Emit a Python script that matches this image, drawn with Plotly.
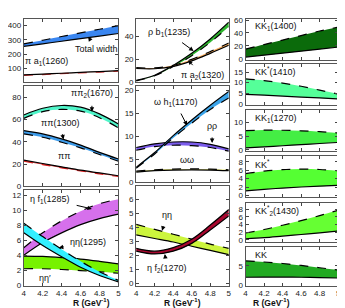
import plotly.graph_objects as go

R = [4.0, 4.2, 4.4, 4.6, 4.8, 5.0]
R_TICKS = [4.0, 4.2, 4.4, 4.6, 4.8, 5.0]
R_TICK_TEXT = ["4", "4.2", "4.4", "4.6", "4.8", "5"]

# left column, panel 1
total_lo = [255, 273, 291, 309, 327, 345]
total_hi = [272, 298, 324, 350, 375, 400]
pia1_lo = [52, 58, 64, 70, 75, 81]
pia1_hi = [55, 61, 67, 73, 79, 85]
# left column, panel 2
pp1670_hi = [64, 70, 72.5, 71, 65, 56]
pp1670_lo = [61, 67, 69, 67.5, 61.5, 52.5]
pp1300_hi = [50, 47, 42.5, 37, 30.5, 24.5]
pp1300_lo = [47, 44, 39.5, 34.5, 28.5, 22.5]
pipi_hi = [23.5, 20.5, 17.5, 14.5, 12, 9.5]
pipi_lo = [22.5, 19.5, 16.5, 13.8, 11.2, 8.8]
# left column, panel 3
ef1285_hi = [5.0, 7.0, 8.6, 9.9, 10.9, 11.5]
ef1285_lo = [4.0, 5.7, 7.0, 8.1, 8.9, 9.5]
ee1295_hi = [8.3, 6.5, 4.8, 3.2, 1.8, 0.65]
ee1295_lo = [7.0, 5.3, 3.8, 2.4, 1.3, 0.45]
eep_hi = [3.9, 3.85, 3.7, 3.5, 3.2, 2.85]
eep_lo = [2.2, 2.2, 2.1, 1.95, 1.8, 1.6]
# middle column, panel 1
rb1_hi = [1.5, 6, 14.5, 25, 37.5, 52]
rb1_lo = [1.0, 5.5, 13.5, 23, 34.5, 48]
pa2_hi = [12.5, 12.3, 14.6, 19.8, 26.5, 34]
pa2_lo = [11.8, 11.6, 13.6, 18.5, 25, 32]
# middle column, panel 2
wh1_hi = [3.3, 6.5, 10.2, 13.6, 16.8, 19.8]
wh1_lo = [3.1, 6.2, 9.7, 12.9, 15.9, 18.4]
rr_hi = [7.6, 8.4, 8.8, 8.8, 8.3, 7.3]
rr_lo = [7.0, 7.8, 8.1, 8.0, 7.6, 6.8]
ww_hi = [2.45, 2.75, 2.9, 2.95, 2.9, 2.75]
ww_lo = [2.25, 2.55, 2.7, 2.75, 2.7, 2.55]
# middle column, panel 3
ee_hi = [4.2, 3.85, 3.5, 3.15, 2.8, 2.5]
ee_lo = [3.45, 3.2, 2.95, 2.65, 2.35, 2.05]
ef2_hi = [2.5, 2.3, 2.55, 3.15, 4.15, 5.25]
ef2_lo = [2.3, 2.1, 2.3, 2.85, 3.8, 4.8]
# right column
kk1400_hi = [15, 22, 29, 36, 43, 49]
kk1400_lo = [2.5, 5.6, 8.7, 11.8, 14.9, 18]
kks1410_hi = [11.8, 11.0, 9.8, 8.3, 6.5, 4.6]
kks1410_lo = [4.5, 4.1, 3.7, 3.2, 2.8, 2.3]
kk1270_hi = [7.0, 7.15, 7.1, 6.9, 6.6, 6.1]
kk1270_lo = [0.7, 1.1, 1.5, 1.9, 2.3, 2.7]
kks_hi = [5.2, 5.8, 6.15, 6.3, 6.2, 5.9]
kks_lo = [1.1, 1.45, 1.75, 2.0, 2.2, 2.4]
kks1430_hi = [1.8, 2.7, 3.8, 5.0, 6.3, 7.7]
kks1430_lo = [0.3, 0.6, 1.0, 1.4, 1.85, 2.3]
kk_hi = [6.3, 6.0, 5.6, 5.1, 4.5, 3.9]
kk_lo = [2.0, 2.05, 2.05, 2.0, 1.9, 1.8]

W, H = 345, 308
FONT = "Liberation Sans, Arial, sans-serif"

# panel: (x left px, x right px, top px, bottom px, y range, y ticks)
panels = [
    (14, 110, 8, 73, [5, 448], [100, 200, 300, 400]),
    (14, 110, 77, 180, [0, 90], [0, 20, 40, 60, 80]),
    (14, 110, 184, 282, [-0.06, 12.7], [0, 2, 4, 6, 8, 10, 12]),
    (128, 222, 8, 73, [0, 55], [0, 20, 40]),
    (128, 222, 77, 176, [0, 21], [0, 5, 10, 15, 20]),
    (128, 222, 180, 282, [-0.15, 6.9], [0, 1, 2, 3, 4, 5, 6]),
    (239, 333, 8, 50, [-1.5, 62], [0, 20, 40, 60]),
    (239, 333, 54, 96, [-0.3, 19], [0, 5, 10, 15]),
    (239, 333, 102, 144, [-0.5, 14.3], [0, 5, 10]),
    (239, 333, 149, 191, [-0.4, 9.4], [0, 2, 4, 6, 8]),
    (239, 333, 197, 237, [-0.5, 9.6], [0, 2, 4, 6, 8]),
    (239, 333, 242, 282, [-0.2, 10], [0, 5]),
]
bottom_panels = {3, 6, 12}

fig = go.Figure()
layout = {}
for i, (xl, xr, yt, yb, yr, yt_vals) in enumerate(panels, start=1):
    s = "" if i == 1 else str(i)
    layout["xaxis" + s] = dict(
        domain=[xl / W, xr / W], anchor="y" + s, range=[4, 5],
        tickvals=R_TICKS, ticktext=R_TICK_TEXT, showticklabels=i in bottom_panels,
        ticks="inside", ticklen=3, tickcolor="#444", mirror="ticks", showline=True,
        linecolor="#555", linewidth=1, showgrid=False, zeroline=False,
        tickfont=dict(size=8, family=FONT, color="#222"),
    )
    layout["yaxis" + s] = dict(
        domain=[1 - yb / H, 1 - yt / H], anchor="x" + s, range=yr,
        tickvals=yt_vals, ticks="inside", ticklen=3, tickcolor="#444", mirror="ticks",
        showline=True, linecolor="#555", linewidth=1, showgrid=False, zeroline=False,
        tickfont=dict(size=8, family=FONT, color="#222"),
    )


def band(i, lo, hi, color, lo_dash="solid", hi_dash="dash", lo_col="black", hi_col="black"):
    s = "" if i == 1 else str(i)
    fig.add_trace(go.Scatter(x=R, y=lo, mode="lines", xaxis="x" + s, yaxis="y" + s,
                             line=dict(color=lo_col, width=1.2, dash=lo_dash, shape="spline"),
                             showlegend=False, hoverinfo="skip"))
    fig.add_trace(go.Scatter(x=R, y=hi, mode="lines", xaxis="x" + s, yaxis="y" + s,
                             fill="tonexty", fillcolor=color,
                             line=dict(color=hi_col, width=1.2, dash=hi_dash, shape="spline"),
                             showlegend=False, hoverinfo="skip"))


band(1, total_lo, total_hi, "#3A86F0", "solid", "dash")
band(1, pia1_lo, pia1_hi, "#F07050", "dash", "solid", lo_col="#E03030")
band(2, pp1670_lo, pp1670_hi, "#4FF5C9", "dash", "solid")
band(2, pp1300_lo, pp1300_hi, "#3D9BE9", "dash", "solid")
band(2, pipi_lo, pipi_hi, "#E8393A", "dash", "solid", lo_col="#E02020")
band(3, ef1285_lo, ef1285_hi, "#D670EC", "solid", "dash")
band(3, eep_lo, eep_hi, "#77F200", "dash", "solid")
band(3, ee1295_lo, ee1295_hi, "#33F0FF", "solid", "dash")
band(4, rb1_lo, rb1_hi, "#2FB52F", "dash", "solid")
band(4, pa2_lo, pa2_hi, "#F5A95A", "solid", "dash")
band(5, rr_lo, rr_hi, "#7B5CEB", "dash", "solid")
band(5, ww_lo, ww_hi, "#E8E878", "solid", "dash")
band(5, wh1_lo, wh1_hi, "#3BA3E8", "dash", "solid")
band(6, ee_lo, ee_hi, "#CCF53D", "solid", "dash")
band(6, ef2_lo, ef2_hi, "#A8072F", "solid", "solid")
band(7, kk1400_lo, kk1400_hi, "#0B6B0B", "solid", "dash")
band(8, kks1410_lo, kks1410_hi, "#55FF99", "solid", "dash")
band(9, kk1270_lo, kk1270_hi, "#44EE44", "solid", "dash")
band(10, kks_lo, kks_hi, "#55FF33", "solid", "dash")
band(11, kks1430_lo, kks1430_hi, "#66FF33", "solid", "dash")
band(12, kk_lo, kk_hi, "#22AA22", "solid", "dash")

ann = []


def label(i, text, x, y, ax=None, ay=None):
    s = "" if i == 1 else str(i)
    d = dict(text=text, xref="x" + s, yref="y" + s, font=dict(size=9, family=FONT, color="#111"))
    if ax is None:
        d.update(x=x, y=y, showarrow=False)
    else:
        d.update(x=ax, y=ay, ax=x, ay=y, axref="x" + s, ayref="y" + s, showarrow=True,
                 arrowhead=2, arrowsize=0.9, arrowwidth=1, arrowcolor="black", standoff=0,
                 startstandoff=5)
    ann.append(d)


label(1, "Total width", 4.77, 235, 4.68, 322)
label(1, "π a<sub>1</sub>(1260)", 4.24, 150, 4.27, 66)
label(2, "ππ<sub>2</sub>(1670)", 4.72, 83, 4.72, 67)
label(2, "ππ(1300)", 4.38, 57, 4.42, 42)
label(2, "ππ", 4.42, 27, 4.4, 18)
label(3, "η f<sub>1</sub>(1285)", 4.28, 11.5, 4.72, 10.2)
label(3, "ηη(1295)", 4.68, 5.8, 4.37, 5.0)
label(3, "ηη′", 4.22, 0.9, 4.22, 2.3)
label(4, "ρ b<sub>1</sub>(1235)", 4.35, 43, 4.62, 27)
label(4, "π a<sub>2</sub>(1320)", 4.72, 5.5, 4.56, 19)
label(5, "ω h<sub>1</sub>(1170)", 4.42, 17.5, 4.55, 12.4)
label(5, "ρρ", 4.82, 12.3, 4.82, 8.6)
label(5, "ωω", 4.55, 4.9, 4.55, 3.1)
label(6, "ηη", 4.33, 4.85, 4.28, 3.75)
label(6, "η f<sub>2</sub>(1270)", 4.33, 1.1, 4.31, 2.1)

right_names = ["KK<sub>1</sub>(1400)", "KK<sup>*</sup>(1410)", "KK<sub>1</sub>(1270)",
               "KK<sup>*</sup>", "KK<sup>*</sup><sub>2</sub>(1430)", "KK"]
for k, name in enumerate(right_names):
    xl, xr, yt, yb, yr, _ = panels[6 + k]
    ann.append(dict(text=name, x=(xl + 8) / W, y=1 - (yt + 8) / H, xref="paper", yref="paper",
                    xanchor="left", yanchor="middle", showarrow=False,
                    font=dict(size=9, family=FONT, color="#111")))

for xl, xr in [(14, 110), (128, 222), (239, 333)]:
    ann.append(dict(text="<b>R (GeV<sup>-1</sup>)</b>", x=(xl + xr) / 2 / W, y=1 - 307 / H,
                    xref="paper", yref="paper", showarrow=False, yanchor="bottom",
                    font=dict(size=8.5, family=FONT, color="#111")))

fig.update_layout(width=W, height=H, margin=dict(l=0, r=0, t=0, b=0),
                  paper_bgcolor="white", plot_bgcolor="white", showlegend=False,
                  annotations=ann, **layout)
fig.write_html("out.html")
